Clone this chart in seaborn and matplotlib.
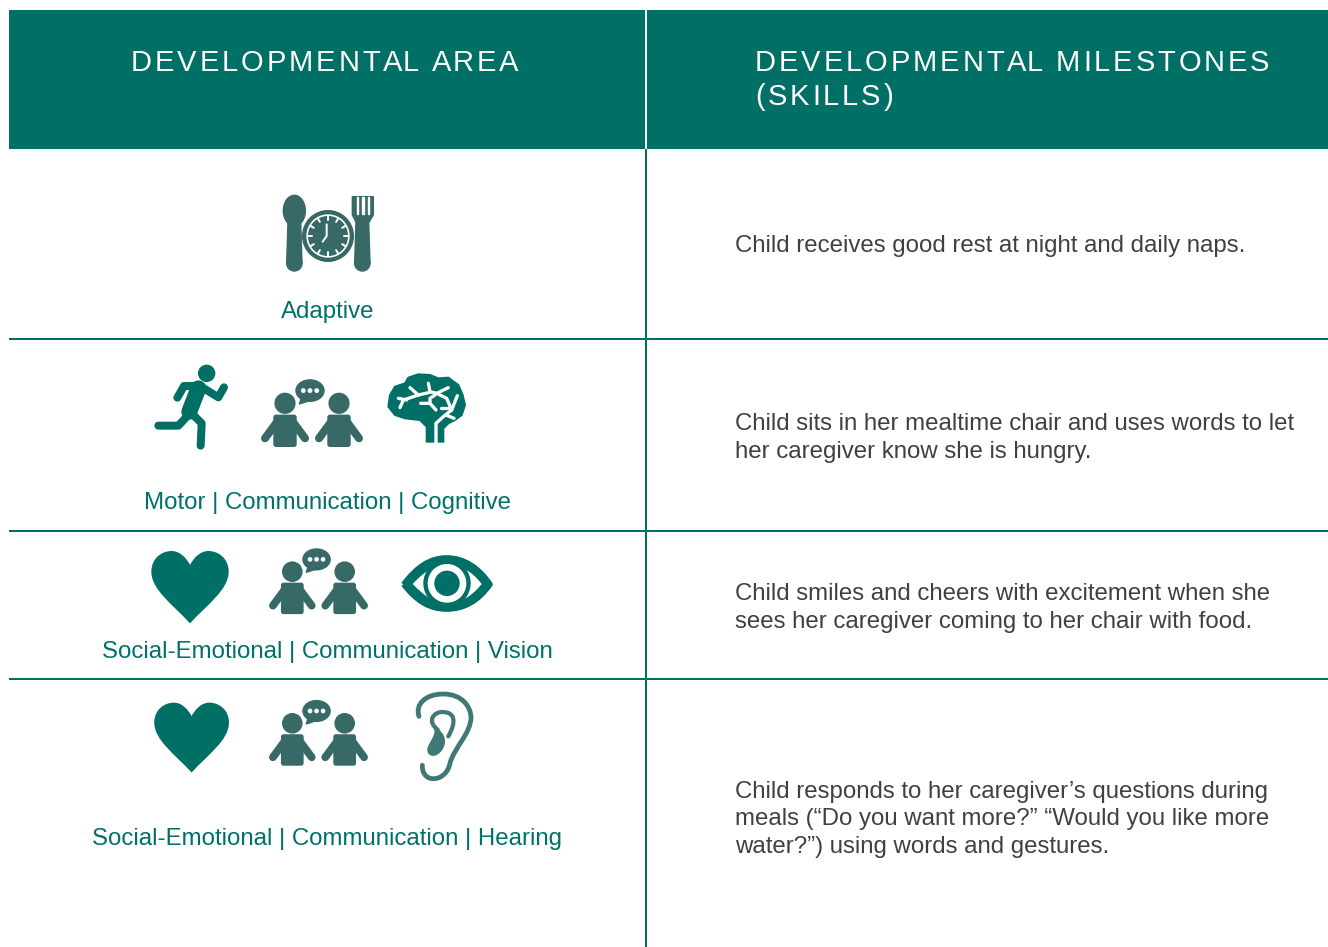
import numpy as np
import seaborn as sns
import matplotlib.pyplot as plt
from matplotlib.patches import Circle, Ellipse, Rectangle, FancyBboxPatch, PathPatch, Polygon
from matplotlib.path import Path
from matplotlib.text import Text
from matplotlib.transforms import Affine2D

headers = [["DEVELOPMENTAL AREA"], ["DEVELOPMENTAL MILESTONES", "(SKILLS)"]]
area_labels = ["Adaptive",
               "Motor | Communication | Cognitive",
               "Social-Emotional | Communication | Vision",
               "Social-Emotional | Communication | Hearing"]
milestones = [["Child receives good rest at night and daily naps."],
              ["Child sits in her mealtime chair and uses words to let",
               "her caregiver know she is hungry."],
              ["Child smiles and cheers with excitement when she",
               "sees her caregiver coming to her chair with food."],
              ["Child responds to her caregiver\u2019s questions during",
               "meals (\u201cDo you want more?\u201d \u201cWould you like more",
               "water?\u201d) using words and gestures."]]

# layout, in pixels of the picture
label_base = [318, 509, 658, 845]
milestone_base = [[252], [430, 458], [600, 628], [798, 825, 853]]
rules = [339, 531, 679]

TEAL = "#006f66"
GREEN_TEXT = "#00706a"
ICON = "#376966"
EAR = "#3f7876"
BODY = "#404040"
PX = 0.72  # points per pixel at dpi 100

sns.set_theme(style="white")
plt.rcParams['font.family'] = ['Liberation Sans', 'DejaVu Sans']

fig = plt.figure(figsize=(13.28, 9.47), dpi=100)
ax = fig.add_axes([0, 0, 1, 1])
ax.set_xlim(0, 1328)
ax.set_ylim(947, 0)
sns.despine(ax=ax, left=True, bottom=True)
ax.set_xticks([])
ax.set_yticks([])


class TrackedText(Text):
    # one text object, drawn with extra room between the letters
    tracking = 2.9

    def draw(self, renderer):
        x, y = self.get_transform().transform(self.get_position())
        y = renderer.height - y
        gc = renderer.new_gc()
        gc.set_foreground(self.get_color())
        s = self.get_text()
        fp = self.get_fontproperties()
        for i, ch in enumerate(s):
            w = renderer.get_text_width_height_descent(s[:i], fp, False)[0] if i else 0
            renderer.draw_text(gc, x + w + i * self.tracking, y, ch, fp, 0, False)
        gc.restore()


def tf(ox, oy, s=1 / 3):
    return Affine2D().scale(s).translate(ox, oy) + ax.transData


def curve(points):
    # first point then triples of bezier points, closed
    codes = [Path.MOVETO] + [Path.CURVE4] * (len(points) - 1)
    return Path(points, codes)


def stroke(xs, ys, t, width, color):
    ax.plot(xs, ys, transform=t, color=color, lw=width * PX,
            solid_capstyle="round", solid_joinstyle="round")


def spoon_clock_fork():
    t = tf(140, 180)
    ax.add_patch(Ellipse((463, 92), 66, 92, color=ICON, transform=t))
    ax.add_patch(Polygon([(444, 125), (482, 125), (486, 250), (440, 250)], color=ICON, transform=t))
    ax.add_patch(Circle((463, 250), 23, color=ICON, transform=t))
    ax.add_patch(Circle((564, 168), 76, color=ICON, transform=t))
    ax.add_patch(Circle((564, 168), 63, color="white", transform=t))
    ax.add_patch(Circle((564, 168), 58, color=ICON, transform=t))
    for a in np.deg2rad(np.arange(0, 360, 30)):
        stroke([564 + 49 * np.cos(a), 564 + 60 * np.cos(a)],
               [168 + 49 * np.sin(a), 168 + 60 * np.sin(a)], t, 2, "white")
    stroke([560, 560, 548], [133, 168, 185], t, 2, "white")
    ax.add_patch(Polygon([(637, 50), (700, 50), (700, 105), (686, 128), (649, 128), (637, 105)],
                         color=ICON, transform=t))
    for x in [652, 668, 685]:
        ax.add_patch(Rectangle((x - 2.5, 50), 5, 52, color="white", transform=t))
    ax.add_patch(Polygon([(648, 125), (686, 125), (690, 250), (644, 250)], color=ICON, transform=t))
    ax.add_patch(Circle((667, 250), 23, color=ICON, transform=t))


def runner():
    t = tf(150, 360)
    ax.add_patch(Circle((170, 40), 24, color=TEAL, transform=t))
    stroke([82, 102, 150, 205, 222], [113, 78, 78, 112, 82], t, 8, TEAL)
    stroke([145, 118], [85, 155], t, 16, TEAL)
    stroke([120, 155, 152], [155, 190, 257], t, 8, TEAL)
    stroke([115, 85, 25], [165, 197, 197], t, 8, TEAL)


def brain():
    t = tf(380, 365)
    outline = [(140, 230), (140, 185), (120, 165), (75, 160), (45, 150), (25, 125), (30, 90), (45, 65),
               (75, 55), (85, 38), (115, 28), (150, 30), (175, 40), (205, 38), (235, 60), (248, 90),
               (255, 120), (245, 150), (225, 165), (205, 175), (190, 190), (190, 230)]
    ax.add_patch(Polygon(outline, facecolor=TEAL, edgecolor=TEAL, lw=2 * PX, joinstyle="round", transform=t))
    stroke([168, 168, 190, 215, 225, 232], [232, 175, 155, 135, 110, 92], t, 3.3, "white")
    stroke([215, 200, 170, 150, 145], [135, 100, 85, 80, 55], t, 3.3, "white")
    stroke([170, 205], [85, 68], t, 3.3, "white")
    stroke([60, 70, 115, 150], [128, 105, 90, 82], t, 3.3, "white")
    stroke([90, 115], [68, 90], t, 3.3, "white")
    stroke([55, 80], [100, 105], t, 3.3, "white")
    stroke([165, 150, 150, 122], [90, 100, 115, 115], t, 3.3, "white")
    stroke([150, 168], [115, 135], t, 3.3, "white")
    stroke([183, 212], [130, 130], t, 3.3, "white")
    stroke([198, 222], [150, 160], t, 3.3, "white")


def people(ox, oy, s):
    t = tf(ox, oy, s)
    for dx in [0, 54]:
        ax.add_patch(Circle((dx, 0), 9.9, color=ICON, transform=t))
        ax.add_patch(FancyBboxPatch((dx - 10, 13), 20, 29, boxstyle="round,pad=1,rounding_size=2",
                                    color=ICON, transform=t))
        stroke([dx - 6, dx - 20], [16, 35], t, 8 * s, ICON)
        stroke([dx + 6, dx + 20], [16, 35], t, 8 * s, ICON)
    ax.add_patch(Ellipse((25, -12.7), 28, 21.4, color=ICON, transform=t))
    ax.add_patch(Polygon([(16.7, -6), (14.3, 0.7), (26.7, -3.3)], color=ICON, transform=t))
    for dx in [18.3, 25, 31.7]:
        ax.add_patch(Circle((dx, -12.7), 1.7, color="white", transform=t))


HEART = [(150, 250), (100, 195), (34, 150), (34, 95), (34, 55), (65, 33), (95, 33),
         (120, 33), (140, 55), (150, 75), (160, 55), (180, 33), (205, 33),
         (235, 33), (266, 55), (266, 95), (266, 150), (200, 195), (150, 250)]


def heart(ox, oy, s=1 / 3):
    ax.add_patch(PathPatch(curve(HEART), facecolor=TEAL, edgecolor="none", transform=tf(ox, oy, s)))


def eye():
    t = tf(140, 540)
    outer = [(790, 133), (830, 80), (870, 53), (920, 53), (970, 53), (1015, 80), (1051, 133),
             (1015, 185), (970, 208), (920, 208), (870, 208), (830, 185), (790, 133)]
    inner = [(818, 132), (855, 92), (885, 75), (920, 75), (960, 75), (995, 92), (1025, 132),
             (995, 170), (960, 190), (920, 190), (885, 190), (855, 170), (818, 132)]
    ax.add_patch(PathPatch(curve(outer), facecolor=TEAL, edgecolor=TEAL, lw=5 * PX, joinstyle="round", transform=t))
    ax.add_patch(PathPatch(curve(inner), facecolor="white", edgecolor="none", transform=t))
    ax.add_patch(Circle((921, 130), 69, color=TEAL, transform=t))
    ax.add_patch(Circle((921, 130), 56, color="white", transform=t))
    ax.add_patch(Circle((921, 130), 36, color=TEAL, transform=t))


def ear():
    t = tf(405, 688)
    outer = Path([(42, 85), (30, 50), (60, 18), (115, 18), (170, 18), (198, 55), (198, 90),
                  (195, 140), (150, 175), (135, 225), (125, 283), (50, 290), (52, 232)],
                 [Path.MOVETO] + [Path.CURVE4] * 12)
    inner = Path([(98, 125), (65, 100), (85, 72), (112, 72), (150, 72), (155, 100), (130, 145)],
                 [Path.MOVETO] + [Path.CURVE4] * 6)
    blob = [(85, 112), (105, 125), (122, 140), (120, 165), (115, 195), (85, 215), (70, 197),
            (58, 178), (82, 160), (88, 135), (90, 128), (85, 122), (85, 112)]
    ax.add_patch(PathPatch(outer, facecolor="none", edgecolor=EAR, lw=4.8 * PX, capstyle="round", transform=t))
    ax.add_patch(PathPatch(inner, facecolor="none", edgecolor=EAR, lw=4.2 * PX, capstyle="round", transform=t))
    ax.add_patch(PathPatch(curve(blob), facecolor=EAR, edgecolor="none", transform=t))


# header band and table lines
ax.add_patch(Rectangle((9, 10), 1319, 139, color=TEAL, lw=0))
ax.plot([646, 646], [10, 149], color="white", lw=2 * PX, solid_capstyle="butt")
ax.plot([646, 646], [149, 947], color=TEAL, lw=2 * PX, solid_capstyle="butt")
for y in rules:
    ax.plot([9, 1328], [y, y], color=TEAL, lw=2 * PX, solid_capstyle="butt")

# header text
for x, lines, bases in zip([131, 755], headers, [[71], [71, 105]]):
    for line, y in zip(lines, bases):
        ax.add_artist(TrackedText(x, y, line, color="white", fontsize=21, ha="left", va="baseline"))

for label, y in zip(area_labels, label_base):
    ax.text(327.5, y, label, color=GREEN_TEXT, fontsize=17.3, ha="center", va="baseline")

for lines, bases in zip(milestones, milestone_base):
    for line, y in zip(lines, bases):
        ax.text(735, y, line, color=BODY, fontsize=17.3, ha="left", va="baseline")

spoon_clock_fork()
runner()
people(285, 403.3, 1)
brain()
heart(140, 540)
people(292.3, 571.7, 0.97)
eye()
heart(143.3, 692, 0.322)
people(292.3, 723.3, 0.97)
ear()

fig.savefig("out.png", dpi=100)
